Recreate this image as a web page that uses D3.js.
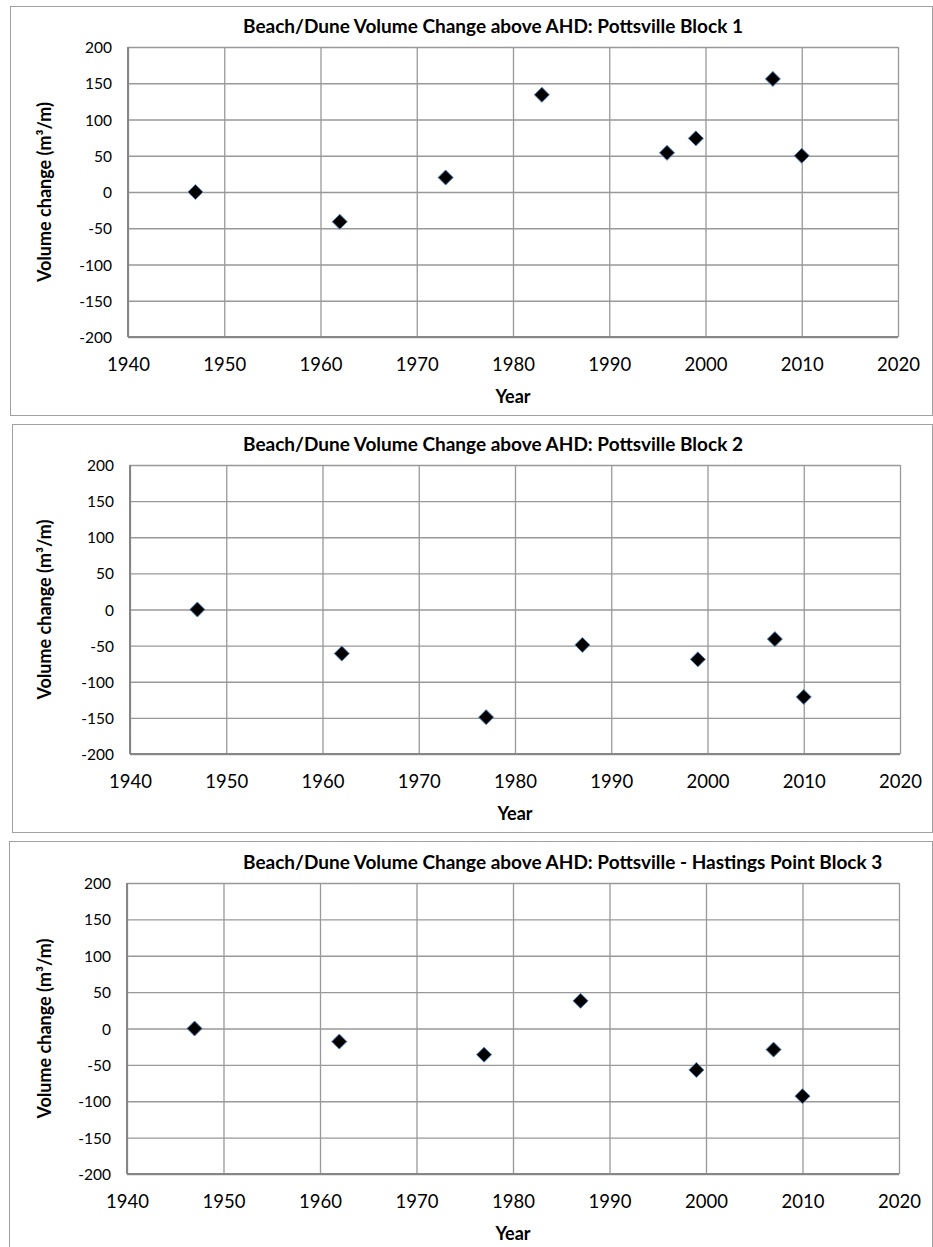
<!DOCTYPE html>
<html>
<head>
<meta charset="utf-8">
<script src="https://cdn.jsdelivr.net/npm/d3@7"></script>
<style>
  body { margin: 0; background: #fff; }
  svg { display: block; }
</style>
</head>
<body>
<div id="chart"></div>
<script>
// Data
const titles = [
	"Beach/Dune Volume Change above AHD: Pottsville Block 1",
	"Beach/Dune Volume Change above AHD: Pottsville Block 2",
	"Beach/Dune Volume Change above AHD: Pottsville - Hastings Point Block 3"
];
const years1 = [1947, 1962, 1973, 1983, 1996, 1999, 2007, 2010];
const values1 = [0, -41, 20, 134, 54, 74, 156, 50];
const years2 = [1947, 1962, 1977, 1987, 1999, 2007, 2010];
const values2 = [0, -61, -149, -49, -69, -41, -121];
const years3 = [1947, 1962, 1977, 1987, 1999, 2007, 2010];
const values3 = [0, -18, -36, 38, -57, -29, -93];
const xTicks = [1940, 1950, 1960, 1970, 1980, 1990, 2000, 2010, 2020];
const yTicks = [-200, -150, -100, -50, 0, 50, 100, 150, 200];
const xLabel = "Year";
const yLabel = "Volume change (m³/m)";

const W = 933, H = 1247;
const font = "Lato, 'Open Sans', sans-serif";

const svg = d3.select("#chart").append("svg")
	.attr("width", W)
	.attr("height", H);

// one panel per block: outer box and plot area
const panels = [
	{ box: [10.5, 6.5, 932.5, 415.5], plot: [128, 47, 898, 337], years: years1, values: values1 },
	{ box: [12.5, 424.5, 932.5, 832.5], plot: [130, 465, 900, 754], years: years2, values: values2 },
	{ box: [9.5, 841.5, 932.5, 1262], plot: [127, 883, 899, 1174], years: years3, values: values3 }
];

panels.forEach((p, i) => chart(p, titles[i]));

function chart(p, title) {
	const [bx0, by0, bx1, by1] = p.box;
	const [px0, py0, px1, py1] = p.plot;
	const data = p.years.map((y, i) => [y, p.values[i]]);

	const g = svg.append("g");

	g.append("rect")
		.attr("x", bx0).attr("y", by0)
		.attr("width", bx1 - bx0).attr("height", by1 - by0)
		.attr("fill", "#fff")
		.attr("stroke", "#a0a0a0")
		.attr("stroke-width", 1);

	const x = d3.scaleLinear().domain([1940, 2020]).range([px0, px1]);
	const y = d3.scaleLinear().domain([-200, 200]).range([py1, py0]);

	// y grid + tick labels (plain hyphen minus, as in the original)
	const yAxis = g.append("g")
		.attr("transform", "translate(" + px0 + ",0)")
		.call(d3.axisLeft(y).tickValues(yTicks).tickFormat(d => String(d))
			.tickSizeInner(-(px1 - px0)).tickSizeOuter(0).tickPadding(16));
	// x grid + tick labels
	const xAxis = g.append("g")
		.attr("transform", "translate(0," + py1 + ")")
		.call(d3.axisBottom(x).tickValues(xTicks).tickFormat(d => String(d))
			.tickSizeInner(-(py1 - py0)).tickSizeOuter(0).tickPadding(21));

	[yAxis, xAxis].forEach(a => {
		a.select(".domain").remove();
		a.selectAll(".tick line").attr("stroke", "#999").attr("stroke-width", 1.3);
		a.selectAll(".tick text").attr("fill", "#000").attr("font-family", font);
	});
	yAxis.selectAll(".tick text").attr("font-size", "15.5px").attr("dy", "0.36em");
	xAxis.selectAll(".tick text").attr("font-size", "18.5px");

	// axis lines (left and bottom)
	g.append("line")
		.attr("x1", px0).attr("x2", px0).attr("y1", py0).attr("y2", py1)
		.attr("stroke", "#868686").attr("stroke-width", 2);
	g.append("line")
		.attr("x1", px0).attr("x2", px1).attr("y1", py1).attr("y2", py1)
		.attr("stroke", "#868686").attr("stroke-width", 2);

	// markers
	g.selectAll("path.pt")
		.data(data)
		.join("path")
		.attr("class", "pt")
		.attr("d", "M0,-7.5L7.5,0L0,7.5L-7.5,0Z")
		.attr("transform", d => "translate(" + x(d[0]) + "," + y(d[1]) + ")")
		.attr("fill", "#000")
		.attr("stroke", "#4f81bd")
		.attr("stroke-width", 1);

	// title
	g.append("text")
		.text(title)
		.attr("x", 243)
		.attr("y", py0 - 14)
		.attr("font-family", font)
		.attr("font-weight", "bold")
		.attr("font-size", "19px")
		.attr("fill", "#000");

	// axis titles
	g.append("text")
		.text(xLabel)
		.attr("x", (px0 + px1) / 2)
		.attr("y", py1 + 66)
		.attr("text-anchor", "middle")
		.attr("font-family", font)
		.attr("font-weight", "bold")
		.attr("font-size", "18px")
		.attr("fill", "#000");

	const cy = (py0 + py1) / 2;
	g.append("text")
		.text(yLabel)
		.attr("transform", "translate(51," + cy + ") rotate(-90)")
		.attr("text-anchor", "middle")
		.attr("font-family", font)
		.attr("font-weight", "bold")
		.attr("font-size", "18px")
		.attr("fill", "#000");
}
</script>
</body>
</html>
